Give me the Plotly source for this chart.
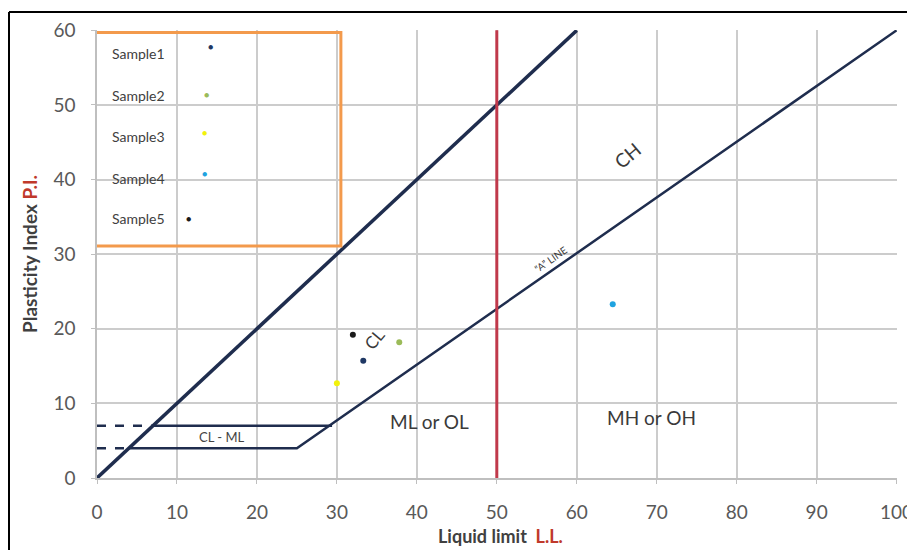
import plotly.graph_objects as go

# ---- data ----
samples = ["Sample1", "Sample2", "Sample3", "Sample4", "Sample5"]
liquid_limit = [33.3, 37.8, 30.0, 64.5, 32.0]
plasticity_index = [15.7, 18.2, 12.7, 23.3, 19.2]
sample_colors = ["#1f3864", "#9bbb59", "#f2f20a", "#1fa3e0", "#1a1a1a"]

# guide lines of the plasticity chart
u_line_x = [0, 60]
u_line_y = [0, 60]
a_line_x = [4, 25, 100]
a_line_y = [4, 4, 60]
upper_cl_ml_x = [7, 29.4]
upper_cl_ml_y = [7, 7]
dash_low_x = [0, 4]
dash_low_y = [4, 4]
dash_up_x = [0, 7]
dash_up_y = [7, 7]
ll_boundary = 50

x_ticks = [0, 10, 20, 30, 40, 50, 60, 70, 80, 90, 100]
y_ticks = [0, 10, 20, 30, 40, 50, 60]

NAVY = "#1f2d4e"
RED = "#c0394b"
FONT = "Lato, 'Open Sans', sans-serif"
TXT = "#3a3a3a"

fig = go.Figure()

fig.add_trace(go.Scatter(x=u_line_x, y=u_line_y, mode="lines",
                         line=dict(color=NAVY, width=3.5), showlegend=False, hoverinfo="skip"))
fig.add_trace(go.Scatter(x=a_line_x, y=a_line_y, mode="lines",
                         line=dict(color=NAVY, width=2.5), showlegend=False, hoverinfo="skip"))
fig.add_trace(go.Scatter(x=upper_cl_ml_x, y=upper_cl_ml_y, mode="lines",
                         line=dict(color=NAVY, width=2.5), showlegend=False, hoverinfo="skip"))
fig.add_trace(go.Scatter(x=dash_low_x, y=dash_low_y, mode="lines",
                         line=dict(color=NAVY, width=2.5, dash="dash"), showlegend=False, hoverinfo="skip"))
fig.add_trace(go.Scatter(x=dash_up_x, y=dash_up_y, mode="lines",
                         line=dict(color=NAVY, width=2.5, dash="dash"), showlegend=False, hoverinfo="skip"))
fig.add_trace(go.Scatter(x=[ll_boundary, ll_boundary], y=[0, 60], mode="lines",
                         line=dict(color=RED, width=3), showlegend=False, hoverinfo="skip"))

for name, xv, yv, c in zip(samples, liquid_limit, plasticity_index, sample_colors):
    fig.add_trace(go.Scatter(x=[xv], y=[yv], mode="markers", name=name,
                             marker=dict(color=c, size=6), showlegend=False))

# legend box (text left, marker right)
fig.add_shape(type="rect", x0=-0.25, x1=30.5, y0=31.1, y1=59.7,
              line=dict(color="#f39a4c", width=3), fillcolor="rgba(0,0,0,0)")
leg_text_y = [56.9, 51.3, 45.8, 40.2, 34.8]
leg_mark_x = [14.25, 13.75, 13.4, 13.4, 11.5]
leg_mark_y = [57.9, 51.4, 46.3, 40.8, 34.8]
for name, c, ty, mx, my in zip(samples, sample_colors, leg_text_y, leg_mark_x, leg_mark_y):
    fig.add_annotation(x=1.6, y=ty, text=name, showarrow=False, xanchor="left",
                       font=dict(family=FONT, size=14, color="#404040"))
    fig.add_annotation(x=mx, y=my, text="●", showarrow=False,
                       font=dict(family=FONT, size=9, color=c))

# region labels
fig.add_annotation(x=34.6, y=18.6, text="CL", textangle=-50,
                   font=dict(family=FONT, size=17, color=TXT), showarrow=False)
fig.add_annotation(x=66.3, y=43.2, text="CH", textangle=-40,
                   font=dict(family=FONT, size=19, color=TXT), showarrow=False)
fig.add_annotation(x=56.75, y=29.4, text="\u201cA\u201d LINE", textangle=-35,
                   font=dict(family=FONT, size=10, color=TXT), showarrow=False)
fig.add_annotation(x=41.6, y=7.6, text="ML or OL",
                   font=dict(family=FONT, size=19, color=TXT), showarrow=False)
fig.add_annotation(x=69.4, y=8.1, text="MH or OH",
                   font=dict(family=FONT, size=19, color=TXT), showarrow=False)
fig.add_annotation(x=15.6, y=5.5, text="CL - ML",
                   font=dict(family=FONT, size=13, color="#444444"), showarrow=False)

# axis titles placed as annotations (paper coords)
fig.add_annotation(xref="paper", yref="paper", x=(500 - 97) / 800, y=(478 - 536) / 448,
                   xanchor="center", yanchor="middle",
                   text="<b>Liquid limit  <span style='color:#c0392b'>L.L.</span></b>",
                   showarrow=False, font=dict(family=FONT, size=18, color="#404040"))
fig.add_annotation(xref="paper", yref="paper", x=(29 - 97) / 800, y=(478 - 254) / 448,
                   xanchor="center", yanchor="middle",
                   text="<b>Plasticity Index <span style='color:#c0392b'>P.I.</span></b>",
                   textangle=-90, showarrow=False, font=dict(family=FONT, size=19, color="#404040"))

# outer black frame (top and left)
fig.add_shape(type="line", xref="paper", yref="paper", x0=-0.11, x1=1.1, y0=1.0402, y1=1.0402,
              line=dict(color="black", width=2))
fig.add_shape(type="line", xref="paper", yref="paper", x0=-0.11, x1=-0.11, y0=1.0402, y1=-0.3,
              line=dict(color="black", width=2))

fig.update_layout(
    width=907, height=550,
    margin=dict(l=97, r=10, t=30, b=72, autoexpand=False),
    paper_bgcolor="white", plot_bgcolor="white",
    font=dict(family=FONT),
    xaxis=dict(range=[0, 100.05], tickvals=x_ticks, showgrid=True, gridcolor="#cccccc", gridwidth=1.5,
               zeroline=False, showline=True, linecolor="#bfbfbf", linewidth=1.5, automargin=False,
               ticks="outside", ticklen=4, tickcolor="#bfbfbf", ticklabelstandoff=12,
               ticklabeloverflow="allow",
               tickfont=dict(size=19, color="#595959", family=FONT)),
    yaxis=dict(range=[0, 60.05], tickvals=y_ticks, showgrid=True, gridcolor="#cccccc", gridwidth=1.5,
               zeroline=False, showline=True, linecolor="#bfbfbf", linewidth=1.5, automargin=False,
               ticks="outside", ticklen=4, tickcolor="#bfbfbf", ticklabelstandoff=12,
               ticklabeloverflow="allow",
               tickfont=dict(size=19, color="#595959", family=FONT)),
    showlegend=False,
)

fig.write_html("out.html")
